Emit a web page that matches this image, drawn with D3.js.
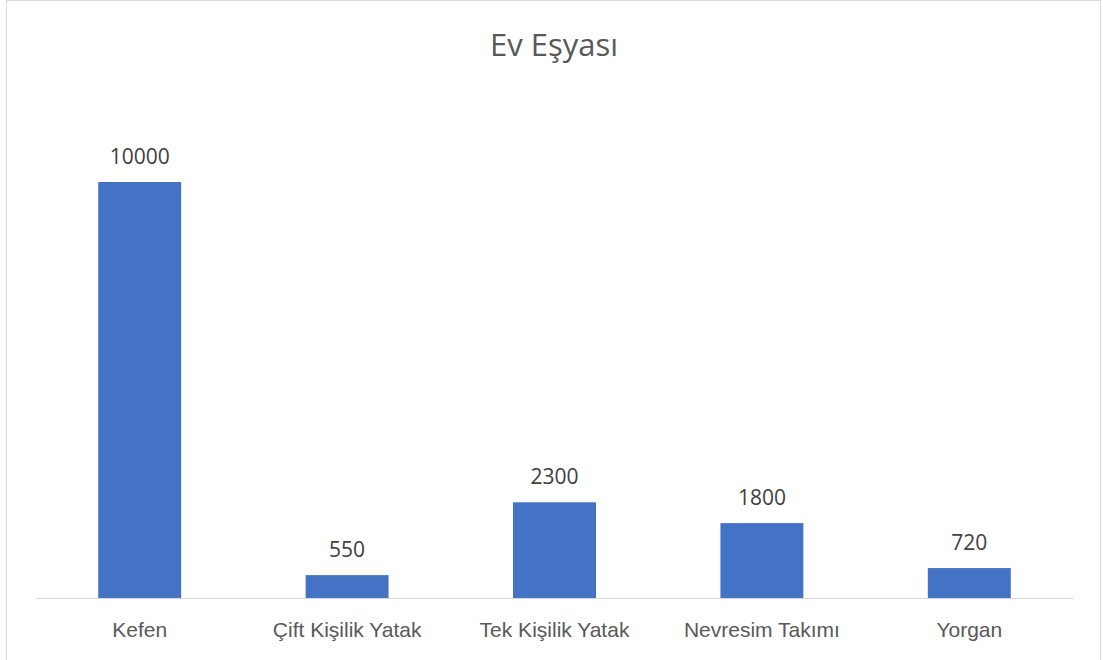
<!DOCTYPE html>
<html>
<head>
  <meta charset="utf-8">
  <title>Ev Eşyası</title>
  <style>
    body { margin: 0; background: white; font-family: "Open Sans", sans-serif; }
    .title { font-size: 31px; fill: #595959; text-anchor: middle; }
    .label { font-size: 21px; fill: #404040; text-anchor: middle; }
    .tick text { font-size: 21px; fill: #595959; }
  </style>
  <script src="https://d3js.org/d3.v7.min.js"></script>
</head>
<body>
  <div id="chart"></div>
  <script>
    // Chart data
    const categories = ["Kefen", "Çift Kişilik Yatak", "Tek Kişilik Yatak", "Nevresim Takımı", "Yorgan"];
    const values = [10000, 550, 2300, 1800, 720];

    const W = 1103, H = 660;
    const margin = {top: 182, right: 30, bottom: 62, left: 36};
    const width = 1073 - margin.left,
          height = 598 - margin.top;

    const root = d3.select("#chart").append("svg")
      .attr("width", W)
      .attr("height", H);

    // chart frame
    root.append("rect")
      .attr("x", 6.5).attr("y", 0.5)
      .attr("width", 1094).attr("height", 670)
      .attr("fill", "white")
      .attr("stroke", "#d9d9d9");

    root.append("text")
      .attr("class", "title")
      .attr("x", 554)
      .attr("y", 56)
      .text("Ev Eşyası");

    const svg = root.append("g")
      .attr("transform", `translate(${margin.left},${margin.top})`);

    const x = d3.scaleBand()
      .domain(categories)
      .range([0, width])
      .paddingInner(0.6)
      .paddingOuter(0.3);

    const y = d3.scaleLinear()
      .domain([0, 10000])
      .range([height, 0]);

    // bars
    svg.selectAll(".bar")
      .data(values)
      .enter().append("rect")
        .attr("class", "bar")
        .attr("x", (d, i) => x(categories[i]))
        .attr("y", d => y(d))
        .attr("width", x.bandwidth())
        .attr("height", d => height - y(d))
        .attr("fill", "#4472c4");

    // value labels
    svg.selectAll(".label")
      .data(values)
      .enter().append("text")
        .attr("class", "label")
        .attr("x", (d, i) => x(categories[i]) + x.bandwidth() / 2)
        .attr("y", d => y(d) - 18)
        .text(d => d);

    // x axis
    const xAxis = svg.append("g")
      .attr("transform", `translate(0,${height})`)
      .call(d3.axisBottom(x).tickSize(0).tickPadding(24));
    xAxis.select(".domain").attr("stroke", "#d9d9d9").attr("stroke-width", 1.2);
    xAxis.selectAll("text").attr("dy", "0.71em");
  </script>
</body>
</html>
